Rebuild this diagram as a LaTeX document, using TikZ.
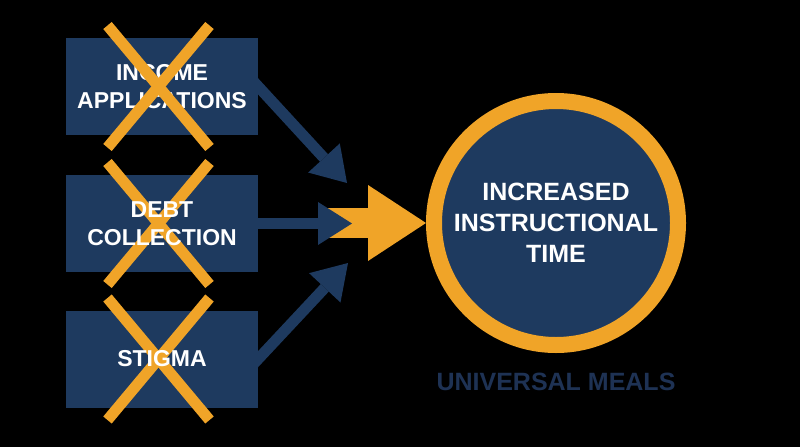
\documentclass[tikz,border=0pt]{standalone}
\usepackage{fontspec}
\setmainfont{Liberation Sans}
\usetikzlibrary{arrows.meta,calc}
\definecolor{navy}{RGB}{30,58,95}
\definecolor{navytext}{RGB}{30,50,84}
\definecolor{gold}{RGB}{240,164,40}
\pgfdeclarelayer{back}
\pgfsetlayers{back,main}
\begin{document}
\begin{tikzpicture}[x=1pt,y=-1pt,
  box/.style={fill=navy, minimum width=192pt, minimum height=97pt, inner sep=0pt,
    text=white, font=\bfseries\fontsize{23}{28}\selectfont, align=center},
  boxtext/.style={inner sep=0pt, text=white,
    font=\bfseries\fontsize{23}{28}\selectfont, align=center},
  cross/.style={draw=gold, line width=11pt},
  navyarrow/.style={draw=navy, line width=11pt,
    -{Triangle[length=34pt,width=43pt,line width=0pt]}},
  goldarrow/.style={draw=gold, line width=30pt,
    -{Triangle[length=58pt,width=76pt,line width=0pt]}},
  hub/.style={circle, fill=navy, draw=gold, line width=16pt, minimum size=244pt,
    inner sep=0pt, outer sep=8pt, text=white,
    font=\bfseries\fontsize{25}{31}\selectfont, align=center},
  caption/.style={text=navytext, inner sep=0pt, font=\bfseries\fontsize{25}{30}\selectfont}]
\useasboundingbox (0,0) rectangle (800,447);
\begin{pgfonlayer}{back}
  \fill[black] (0,0) rectangle (800,447);
\end{pgfonlayer}

\node[box] (b1) at (162,86.5) {INCOME\\APPLICATIONS};
\node[box] (b2) at (162,223.5) {};
\node[box] (b3) at (162,359) {};
\node[hub] (c) at (556,223) {INCREASED\\INSTRUCTIONAL\\TIME};
\node[caption] (cap) at (556,382) {UNIVERSAL MEALS};

\foreach \b in {b1,b2,b3} {
  \draw[cross] ($(\b.center)+(-54.5,-61)$) -- ($(\b.center)+(47.5,61)$);
  \draw[cross] ($(\b.center)+(47.5,-61)$) -- ($(\b.center)+(-54.5,61)$);
}
\node[boxtext] (b2t) at (b2.center) {DEBT\\COLLECTION};
\node[boxtext] (b3t) at (b3.center) {STIGMA};

\coordinate (t1) at (347,183);
\coordinate (t2) at (352,223.5);
\coordinate (t3) at (348,263);
\coordinate (o0) at (325,223);

\begin{pgfonlayer}{back}
  \draw[goldarrow] (o0) -- (c.west);
  \draw[navyarrow] ($(b1.east)!-12pt!(t1)$) -- (t1);
  \draw[navyarrow] ($(b2.east)!-12pt!(t2)$) -- (t2);
  \draw[navyarrow] ($(b3.east)!-12pt!(t3)$) -- (t3);
\end{pgfonlayer}
\end{tikzpicture}
\end{document}
